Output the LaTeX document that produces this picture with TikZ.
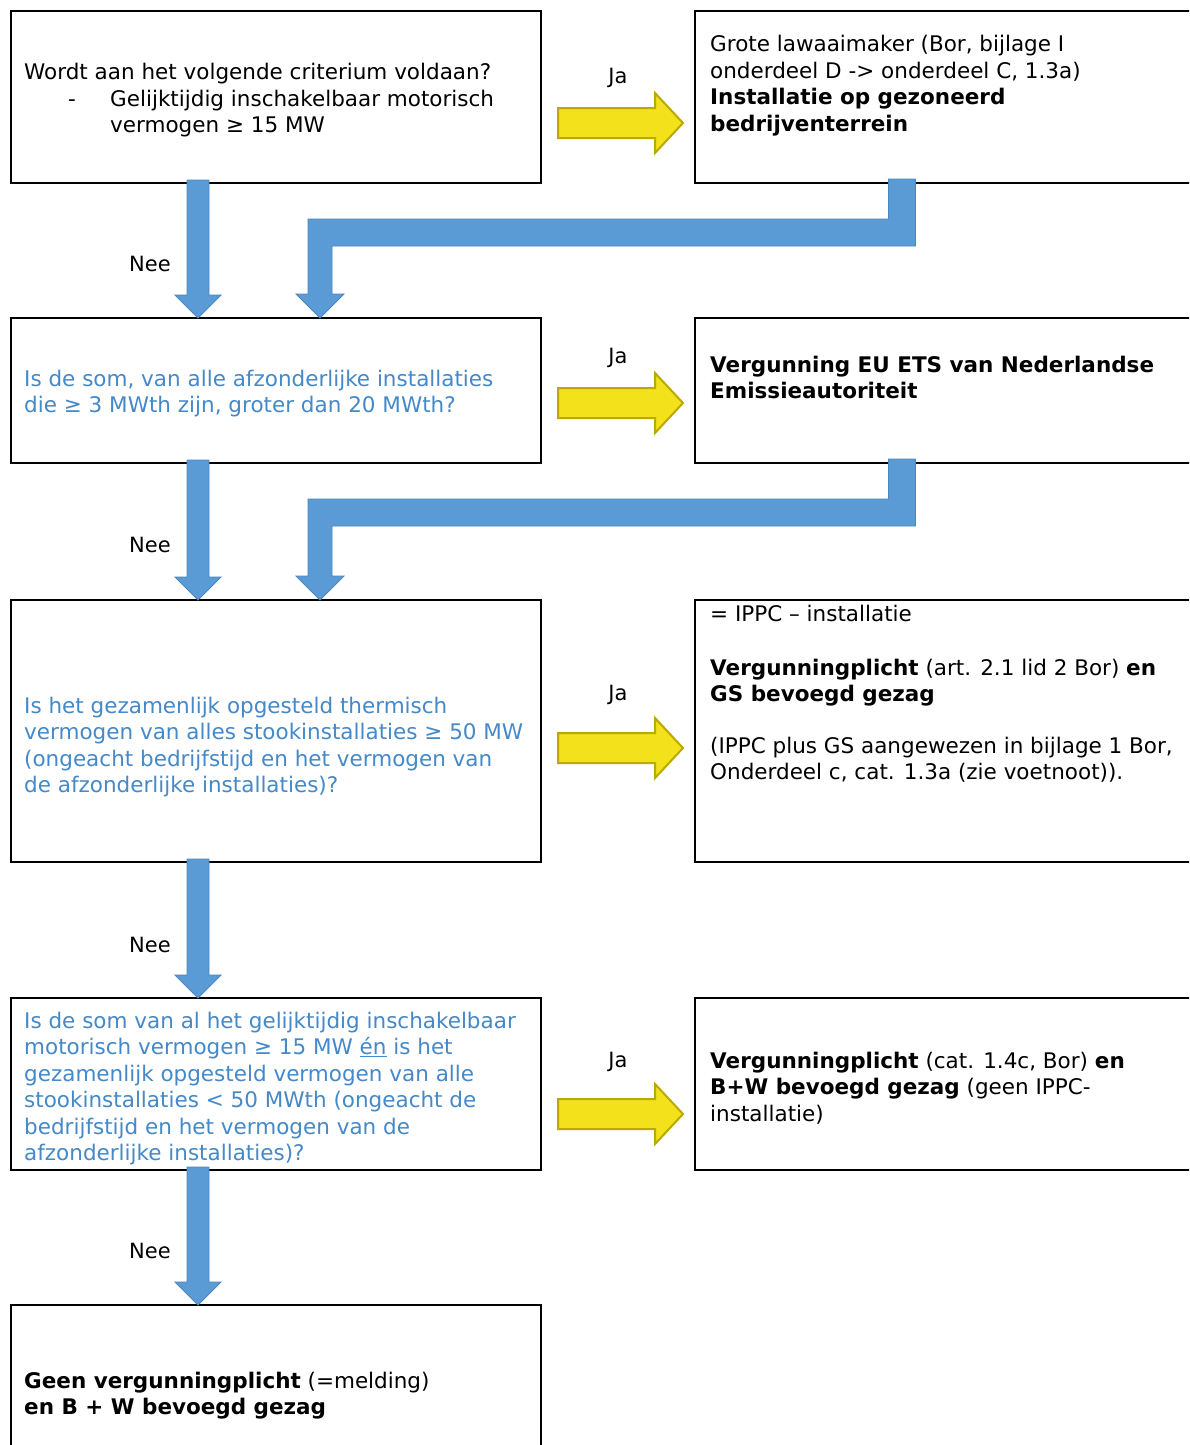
\documentclass[tikz,border=0pt]{standalone}
\usepackage{fontspec}
\setmainfont{DejaVu Sans}
\usetikzlibrary{calc}
\definecolor{pijlblauw}{HTML}{5B9BD5}
\definecolor{pijlblauwrand}{HTML}{4A86C0}
\definecolor{pijlgeel}{HTML}{F2E11B}
\definecolor{pijlgeelrand}{HTML}{BBA900}
\definecolor{vraagblauw}{HTML}{4589C8}

% regels onder elkaar, basislijn op de eerste regel
\newcommand\regels[1]{\begin{tabular}[t]{@{}l@{}}#1\end{tabular}}
% blauwe pijl recht naar beneden: x-coordinaat, van knoop, naar knoop
\newcommand\neepijl[3]{%
  \draw[neestijl] ($(#1 |- #2.south)+(-11,-3)$) -- ++(22,0) -- ($(#1 |- #3.north)+(11,-23)$)
    -- ++(12,0) -- (#1 |- #3.north) -- ++(-23,-23) -- ++(12,0) -- cycle;}
% blauwe haakpijl van rechter vak terug naar volgende vraag
\newcommand\terugpijl[2]{%
  \draw[neestijl] ($(xr |- #1.south)+(-13.5,-4)$) -- ++(27,0) -- ++(0,67)
    -- ($(xm |- #1.south)+(12,63)$) -- ($(xm |- #2.north)+(12,-24)$) -- ++(12,0)
    -- (xm |- #2.north) -- ++(-24,-24) -- ++(12,0)
    -- ($(xm |- #1.south)+(-12,36)$) -- ($(xr |- #1.south)+(-13.5,36)$) -- cycle;}
% gele pijl naar rechts: linker vak, y van de pijl
\newcommand\japijl[2]{%
  \draw[jastijl] ($(#1.east |- 0,#2)+(17,-15)$) -- ++(97,0) -- ++(0,-15) -- ++(28,30)
    -- ++(-28,30) -- ++(0,-15) -- ++(-97,0) -- cycle;}

\begin{document}
\begin{tikzpicture}[x=1pt,y=-1pt,
    vak/.style={draw=black,line width=1.3pt,anchor=north west,inner sep=0pt,outer sep=0pt,minimum width=#1},
    vak/.default=530pt,
    tekst/.style={anchor=base west,inner sep=0pt,font=\fontsize{21.5}{26.5}\selectfont},
    vraag/.style={tekst,text=vraagblauw},
    label/.style={inner sep=0pt,font=\fontsize{21}{25}\selectfont},
    neestijl/.style={fill=pijlblauw,draw=pijlblauwrand,line width=0.8pt},
    jastijl/.style={fill=pijlgeel,draw=pijlgeelrand,line width=2pt,line join=miter}]
\useasboundingbox (0,0) rectangle (1189,1445);
\clip (0,0) rectangle (1189,1445);
\fill[white] (0,0) rectangle (1189,1445);

\coordinate (xl) at (198,0);
\coordinate (xm) at (320,0);
\coordinate (xr) at (902,0);

% vakken
\node[vak,minimum height=172pt] (v1) at (11,11) {};
\node[vak=530pt,minimum height=172pt] (r1) at (695,11) {};
\node[vak,minimum height=145pt] (v2) at (11,318) {};
\node[vak,minimum height=145pt] (r2) at (695,318) {};
\node[vak,minimum height=262pt] (v3) at (11,600) {};
\node[vak,minimum height=262pt] (r3) at (695,600) {};
\node[vak,minimum height=172pt] (v4) at (11,998) {};
\node[vak,minimum height=172pt] (r4) at (695,998) {};
\node[vak,minimum height=170pt] (v5) at (11,1305) {};

% teksten
\node[tekst] (t-v1) at (24,79) {Wordt aan het volgende criterium voldaan?};
\node[tekst] (t-v1s) at (68,106) {-};
\node[tekst] (t-v1b) at (110,106) {\regels{Gelijktijdig inschakelbaar motorisch\\vermogen ≥ 15 MW}};
\node[tekst] (t-r1) at (710,52) {\regels{Grote lawaaimaker (Bor, bijlage I\\onderdeel D -> onderdeel C, 1.3a)\\\textbf{Installatie op gezoneerd}\\\textbf{bedrijventerrein}}};
\node[vraag] (t-v2) at (24,386) {\regels{Is de som, van alle afzonderlijke installaties\\die ≥ 3 MWth zijn, groter dan 20 MWth?}};
\node[tekst] (t-r2) at (710,372) {\regels{\textbf{Vergunning EU ETS van Nederlandse}\\\textbf{Emissieautoriteit}}};
\node[vraag] (t-v3) at (24,713) {\regels{Is het gezamenlijk opgesteld thermisch\\vermogen van alles stookinstallaties ≥ 50 MW\\(ongeacht bedrijfstijd en het vermogen van\\de afzonderlijke installaties)?}};
\node[tekst] (t-r3a) at (710,621) {= IPPC – installatie};
\node[tekst] (t-r3b) at (710,675) {\regels{\textbf{Vergunningplicht} (art. 2.1 lid 2 Bor) \textbf{en}\\\textbf{GS bevoegd gezag}}};
\node[tekst] (t-r3c) at (710,753) {\regels{(IPPC plus GS aangewezen in bijlage 1 Bor,\\Onderdeel c, cat. 1.3a (zie voetnoot)).}};
\node[vraag] (t-v4) at (24,1028) {\regels{Is de som van al het gelijktijdig inschakelbaar\\motorisch vermogen ≥ 15 MW \underline{én} is het\\gezamenlijk opgesteld vermogen van alle\\stookinstallaties < 50 MWth (ongeacht de\\bedrijfstijd en het vermogen van de\\afzonderlijke installaties)?}};
\node[tekst] (t-r4) at (710,1068) {\regels{\textbf{Vergunningplicht} (cat. 1.4c, Bor) \textbf{en}\\\textbf{B+W bevoegd gezag} (geen IPPC-\\installatie)}};
\node[tekst] (t-v5) at (24,1388) {\regels{\textbf{Geen vergunningplicht} (=melding)\\\textbf{en B + W bevoegd gezag}}};

% pijlen nee
\neepijl{xl}{v1}{v2}
\neepijl{xl}{v2}{v3}
\neepijl{xl}{v3}{v4}
\neepijl{xl}{v4}{v5}
\terugpijl{r1}{v2}
\terugpijl{r2}{v3}
\node[label] (nee1) at (150,264) {Nee};
\node[label] (nee2) at (150,545) {Nee};
\node[label] (nee3) at (150,945) {Nee};
\node[label] (nee4) at (150,1251) {Nee};

% pijlen ja
\japijl{v1}{123}
\japijl{v2}{403}
\japijl{v3}{748}
\japijl{v4}{1114}
\node[label] (ja1) at (618,78) {Ja};
\node[label] (ja2) at (618,358) {Ja};
\node[label] (ja3) at (618,695) {Ja};
\node[label] (ja4) at (618,1062) {Ja};
\end{tikzpicture}
\end{document}
